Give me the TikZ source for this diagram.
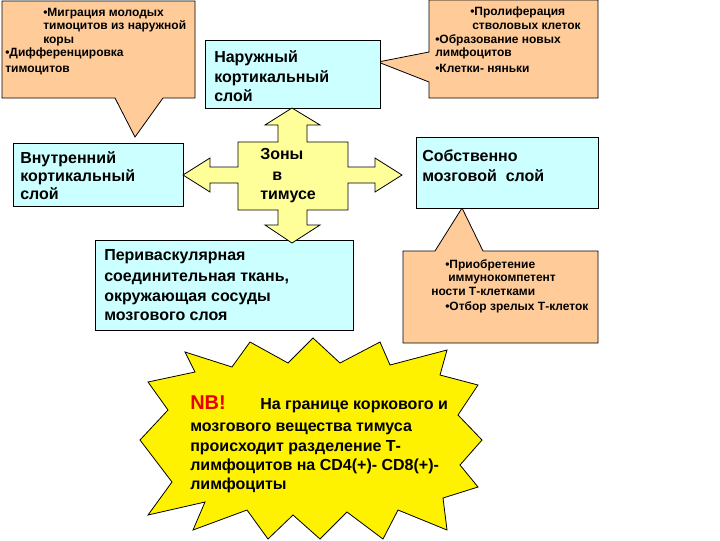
\documentclass[tikz,border=0pt]{standalone}
\usepackage{fontspec}
\setmainfont{Liberation Sans}
\definecolor{peach}{RGB}{255,204,153}
\definecolor{lcyan}{RGB}{204,255,255}
\definecolor{pyellow}{RGB}{255,255,153}
\definecolor{nbred}{RGB}{230,0,0}
\usetikzlibrary{fit}
\tikzset{
  outline/.style={draw=black, line width=0.6pt},
  callout/.style={outline, fill=peach},
  cyanbox/.style={outline, fill=lcyan, inner sep=0pt},
  small/.style={font=\fontsize{9}{10}\selectfont\bfseries, inner sep=0pt, anchor=base west},
  boxtxt/.style={font=\fontsize{12}{14}\selectfont\bfseries, inner sep=0pt, anchor=base west},
  burst/.style={font=\fontsize{12}{14}\selectfont\bfseries, inner sep=0pt, anchor=base west},
}
\begin{document}
\begin{tikzpicture}[x=0.75pt,y=-0.75pt]
\useasboundingbox (0,0) rectangle (720,540);
\fill[white] (0,0) rectangle (720,540);

% top-left callout
\draw[callout] (2,1) -- (195,1) -- (195,98) -- (163,98) -- (135,137) -- (115,98) -- (2,98) -- cycle;
\node[small] (tl1) at (43,16) {•Миграция молодых};
\node[small] (tl2) at (43,29) {тимоцитов из наружной};
\node[small] (tl3) at (43,43) {коры};
\node[small] (tl4) at (5,56) {•Дифференцировка};
\node[small] (tl5) at (5,72) {тимоцитов};

% top-right callout
\draw[callout] (429,0) -- (598,0) -- (598,98) -- (429,98) -- (429,82) -- (378,62) -- (429,52) -- cycle;
\node[small] (tr1) at (470,15) {•Пролиферация};
\node[small] (tr2) at (472,29) {стволовых клеток};
\node[small] (tr3) at (435,43) {•Образование новых};
\node[small] (tr4) at (435,56) {лимфоцитов};
\node[small] (tr5) at (435,72) {•Клетки- няньки};

% bottom-right callout
\draw[callout] (403,251) -- (435,251) -- (462,208) -- (483,251) -- (598,251) -- (598,343) -- (403,343) -- cycle;
\node[small] (br1) at (445,268) {•Приобретение};
\node[small] (br2) at (448,281) {иммунокомпетент};
\node[small] (br3) at (431,295) {ности Т-клетками};
\node[small] (br4) at (445,310) {•Отбор зрелых Т-клеток};

% cyan boxes
\node[cyanbox, fit={(205,40) (380,108)}] (outer) {};
\node[boxtxt] (outer1) at (214,62) {Наружный};
\node[boxtxt] (outer2) at (214,82) {кортикальный};
\node[boxtxt] (outer3) at (214,101) {слой};

\node[cyanbox, fit={(13,143) (183,206)}] (inner) {};
\node[boxtxt] (inner1) at (20,163) {Внутренний};
\node[boxtxt] (inner2) at (20,181) {кортикальный};
\node[boxtxt] (inner3) at (20,199) {слой};

\node[cyanbox, fit={(416,137) (598,208)}] (medulla) {};
\node[boxtxt] (med1) at (422,161) {Собственно};
\node[boxtxt] (med2) at (422,181) {мозговой\ \ слой};

\node[cyanbox, fit={(95,240) (353,330)}] (perivasc) {};
\node[boxtxt] (pv1) at (104,260) {Периваскулярная};
\node[boxtxt] (pv2) at (104,281) {соединительная ткань,};
\node[boxtxt] (pv3) at (104,301) {окружающая сосуды};
\node[boxtxt] (pv4) at (104,320) {мозгового слоя};

% cross arrow
\draw[outline, fill=pyellow]
 (292,108) -- (320,125) -- (307,125) -- (307,142) -- (348,142) -- (348,167) -- (375,167) -- (375,158)
 -- (402,175) -- (375,192) -- (375,183) -- (348,183) -- (348,210) -- (307,210) -- (307,225) -- (320,225)
 -- (292,243) -- (265,225) -- (278,225) -- (278,210) -- (238,210) -- (238,183) -- (210,183) -- (210,192)
 -- (183,175) -- (210,158) -- (210,167) -- (238,167) -- (238,142) -- (278,142) -- (278,125) -- (265,125) -- cycle;
\node[boxtxt] (z1) at (260,159) {Зоны};
\node[boxtxt] (z2) at (272,180) {в};
\node[boxtxt] (z3) at (260,199) {тимусе};

% starburst
\draw[outline, fill=yellow]
 (185,352) -- (232,367) -- (250,342) -- (288,363) -- (313,338) -- (340,363) -- (380,342) -- (390,365)
 -- (447,350) -- (440,375) -- (478,385) -- (458,415) -- (482,440) -- (460,465) -- (478,487) -- (443,498)
 -- (447,530) -- (398,510) -- (383,539) -- (347,512) -- (320,539) -- (293,515) -- (268,539) -- (247,510)
 -- (193,530) -- (205,502) -- (148,515) -- (172,482) -- (140,440) -- (168,410) -- (148,382) -- (195,372) -- cycle;
\node[inner sep=0pt, anchor=base west, font=\fontsize{15}{18}\selectfont\bfseries, text=nbred] (nb) at (190,409) {NB!};
\node[burst] (b1) at (260,409) {На границе коркового и};
\node[burst] (b2) at (190,431) {мозгового вещества тимуса};
\node[burst] (b3) at (190,451) {происходит разделение Т-};
\node[burst] (b4) at (190,470) {лимфоцитов на CD4(+)- CD8(+)-};
\node[burst] (b5) at (190,489) {лимфоциты};
\end{tikzpicture}
\end{document}
